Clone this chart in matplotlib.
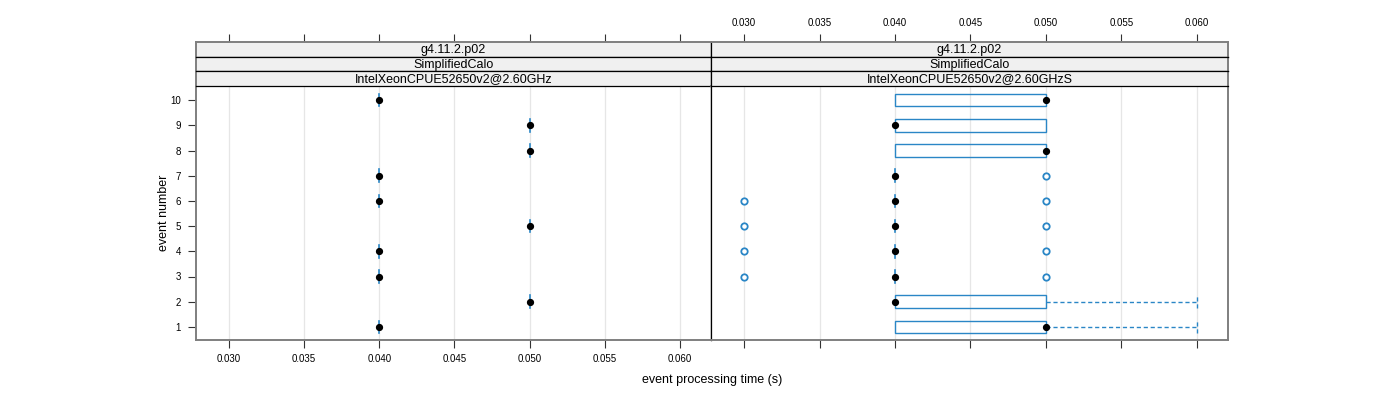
import matplotlib
matplotlib.use("Agg")
import matplotlib.pyplot as plt
from matplotlib.patches import Rectangle

plt.rcParams['font.family'] = ['Liberation Sans', 'DejaVu Sans']

events = [1, 2, 3, 4, 5, 6, 7, 8, 9, 10]
x_ticks = [0.030, 0.035, 0.040, 0.045, 0.050, 0.055, 0.060]
x_tick_labels = ["0.030", "0.035", "0.040", "0.045", "0.050", "0.055", "0.060"]
strip_rows = ["g4.11.2.p02", "SimplifiedCalo"]
panel_names = ["IntelXeonCPUE52650v2@2.60GHz", "IntelXeonCPUE52650v2@2.60GHzS"]

# left panel: one value per event
left_q1 = [0.04, 0.05, 0.04, 0.04, 0.05, 0.04, 0.04, 0.05, 0.05, 0.04]
left_med = [0.04, 0.05, 0.04, 0.04, 0.05, 0.04, 0.04, 0.05, 0.05, 0.04]
left_q3 = [0.04, 0.05, 0.04, 0.04, 0.05, 0.04, 0.04, 0.05, 0.05, 0.04]
left_whi = [0.04, 0.05, 0.04, 0.04, 0.05, 0.04, 0.04, 0.05, 0.05, 0.04]
left_out = [[], [], [], [], [], [], [], [], [], []]

# right panel box statistics
right_q1 = [0.04, 0.04, 0.04, 0.04, 0.04, 0.04, 0.04, 0.04, 0.04, 0.04]
right_med = [0.05, 0.04, 0.04, 0.04, 0.04, 0.04, 0.04, 0.05, 0.04, 0.05]
right_q3 = [0.05, 0.05, 0.04, 0.04, 0.04, 0.04, 0.04, 0.05, 0.05, 0.05]
right_whi = [0.06, 0.06, 0.04, 0.04, 0.04, 0.04, 0.04, 0.05, 0.05, 0.05]
right_out = [[], [], [0.03, 0.05], [0.03, 0.05], [0.03, 0.05], [0.03, 0.05], [0.05], [], [], []]

BLUE = "#2a86c6"
GRAY = "#7f7f7f"
W, H = 1400, 400
fig = plt.figure(figsize=(14, 4), dpi=100)

def fx(px):
    return px / W

def fy(py):
    return 1 - py / H

xlim = (0.02781, 0.06206)
ylim = (0.48, 10.56)
panels = [(196, 711, left_q1, left_med, left_q3, left_whi, left_out, True),
          (711, 1228, right_q1, right_med, right_q3, right_whi, right_out, False)]

top_y, strip_bot, bot_y = 42, 86, 340
hw = 0.25

for i, (x0, x1, q1, med, q3, whi, outs, first) in enumerate(panels):
    # outer axis for top ticks
    ax_top = fig.add_axes([fx(x0), fy(bot_y), fx(x1 - x0), fy(top_y) - fy(bot_y)])
    ax_top.set_xlim(*xlim)
    ax_top.set_ylim(0, 1)
    ax_top.patch.set_visible(False)
    for s in ax_top.spines.values():
        s.set_visible(False)
    ax_top.set_yticks([])
    ax_top.xaxis.set_ticks_position('top')
    ax_top.set_xticks(x_ticks)
    ax_top.set_xticklabels(x_tick_labels if not first else [""] * len(x_ticks), fontsize=7)
    ax_top.tick_params(axis='x', direction='out', length=6, width=0.8, color='#333333', pad=4)

    ax = fig.add_axes([fx(x0), fy(bot_y), fx(x1 - x0), fy(strip_bot) - fy(bot_y)])
    ax.set_xlim(*xlim)
    ax.set_ylim(*ylim)
    for xt in x_ticks:
        ax.axvline(xt, color='#e6e6e6', lw=0.9, zorder=0)
    for e, a, m, b, wh, ol in zip(events, q1, med, q3, whi, outs):
        if b > a:
            ax.add_patch(Rectangle((a, e - hw), b - a, 2 * hw, fill=False, edgecolor=BLUE, lw=1.0, zorder=2))
        else:
            ax.plot([a, a], [e - hw, e + hw], color=BLUE, lw=1.2, zorder=2)
        if wh > b:
            ax.plot([b, wh], [e, e], color=BLUE, lw=1.0, ls=(0, (3, 2)), zorder=2)
            ax.plot([wh, wh], [e - hw, e + hw], color=BLUE, lw=1.0, ls=(0, (3, 2)), zorder=2)
        for o in ol:
            ax.plot([o], [e], marker='o', ms=4.6, mfc='white', mec=BLUE, mew=1.3, ls='none', zorder=3)
        ax.plot([m], [e], marker='o', ms=4.2, color='black', ls='none', zorder=4)
    ax.set_xticks(x_ticks)
    ax.set_xticklabels(x_tick_labels if first else [""] * len(x_ticks), fontsize=7)
    ax.tick_params(axis='x', direction='out', length=6, width=0.8, color='#333333', pad=4)
    if first:
        ax.set_yticks(events)
        ax.set_yticklabels([str(e) for e in events], fontsize=7)
        ax.tick_params(axis='y', direction='out', length=6, width=0.8, color='#333333', pad=5)
        ax.set_ylabel("event number", fontsize=9, labelpad=0)
    else:
        ax.set_yticks([])
    for name, s in ax.spines.items():
        s.set_color(GRAY)
        s.set_linewidth(1.4)
    if first:
        ax.spines['right'].set_color('black')
        ax.spines['right'].set_linewidth(0.9)
    else:
        ax.spines['left'].set_color('black')
        ax.spines['left'].set_linewidth(0.9)

    rows = strip_rows + [panel_names[i]]
    bounds = [(42, 57), (57, 71), (71, 86)]
    for txt, (a, b) in zip(rows, bounds):
        sax = fig.add_axes([fx(x0), fy(b), fx(x1 - x0), fy(a) - fy(b)])
        sax.set_facecolor('#f0f0f0')
        sax.set_xticks([])
        sax.set_yticks([])
        for name, s in sax.spines.items():
            s.set_color('black')
            s.set_linewidth(0.9)
        if first:
            sax.spines['left'].set_color(GRAY)
            sax.spines['left'].set_linewidth(1.4)
        else:
            sax.spines['right'].set_color(GRAY)
            sax.spines['right'].set_linewidth(1.4)
        if a == 42:
            sax.spines['top'].set_color(GRAY)
            sax.spines['top'].set_linewidth(1.4)
        sax.text(0.5, 0.45, txt, ha='center', va='center', fontsize=9, transform=sax.transAxes)

fig.text(fx(712), fy(380), "event processing time (s)", ha='center', va='center', fontsize=9)

fig.savefig("out.png", dpi=100)
